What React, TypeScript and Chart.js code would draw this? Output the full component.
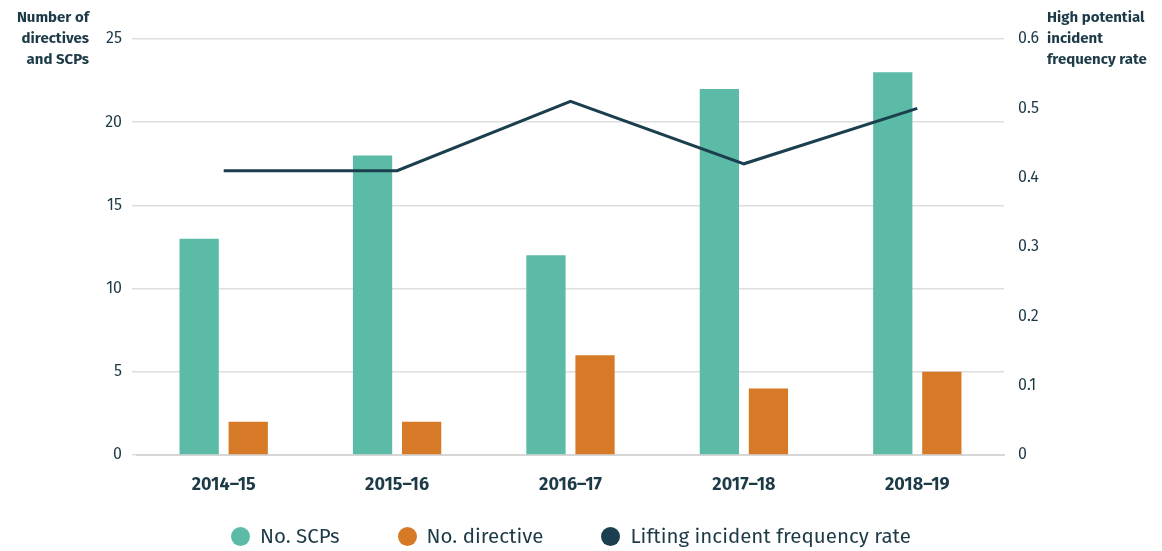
import React, { useEffect, useRef } from "react";
import { Chart, registerables } from "chart.js";

Chart.register(...registerables);

const categories = ["2014–15", "2015–16", "2016–17", "2017–18", "2018–19"];
const scps = [13, 18, 12, 22, 23];
const directives = [2, 2, 6, 4, 5];
const liftingRate = [0.41, 0.41, 0.51, 0.42, 0.5];

const TEAL = "#5bbba6";
const ORANGE = "#d67a27";
const NAVY = "#1b3f4f";
const TEXT = "#1d3a47";
const FONT = "'Fira Sans', Lato, 'Open Sans', sans-serif";

export default function App() {
  const ref = useRef<HTMLCanvasElement>(null);
  useEffect(() => {
    if (!ref.current) return;
    const chart = new Chart(ref.current, {
      type: "bar",
      data: {
        labels: categories,
        datasets: [
          {
            type: "line",
            label: "Lifting incident frequency rate",
            data: liftingRate,
            yAxisID: "y1",
            borderColor: NAVY,
            backgroundColor: NAVY,
            borderWidth: 3,
            pointRadius: 0,
            tension: 0,
            order: 0,
          } as any,
          {
            label: "No. SCPs",
            data: scps,
            backgroundColor: TEAL,
            yAxisID: "y",
            categoryPercentage: 0.566,
            barPercentage: 0.8,
            order: 1,
          },
          {
            label: "No. directive",
            data: directives,
            backgroundColor: ORANGE,
            yAxisID: "y",
            categoryPercentage: 0.566,
            barPercentage: 0.8,
            order: 1,
          },
        ],
      },
      options: {
        animation: false,
        responsive: false,
        maintainAspectRatio: false,
        layout: { padding: { top: 39, bottom: 51, left: 0, right: 0 } },
        plugins: { legend: { display: false }, tooltip: { enabled: false } },
        scales: {
          x: {
            grid: { display: false },
            border: { display: true, color: "#d6d6d6", width: 2 },
            ticks: {
              color: TEXT,
              font: { family: FONT, size: 18, weight: "bold" },
              padding: 11,
            },
            afterFit: (s: any) => {
              s.height = 45;
            },
          },
          y: {
            position: "left",
            min: 0,
            max: 25,
            ticks: {
              stepSize: 5,
              color: TEXT,
              font: { family: FONT, size: 16 },
              padding: 10,
            },
            grid: { color: "#dedede", lineWidth: 1.5, tickLength: 5, drawTicks: true, tickColor: "#dedede" },
            border: { display: false },
            afterFit: (s: any) => {
              s.width = 137;
            },
          },
          y1: {
            position: "right",
            min: 0,
            max: 0.6,
            ticks: {
              stepSize: 0.1,
              color: TEXT,
              font: { family: FONT, size: 16 },
              padding: 14,
              callback: (v: any) => (Number(v) === 0 ? "0" : Number(v).toFixed(1)),
            },
            grid: { display: false, drawTicks: false },
            border: { display: false },
            afterFit: (s: any) => {
              s.width = 158;
            },
          },
        },
      },
    });
    return () => chart.destroy();
  }, []);

  const titleStyle: React.CSSProperties = {
    position: "absolute",
    top: 7,
    fontFamily: FONT,
    fontWeight: 700,
    fontSize: 15,
    lineHeight: "21px",
    color: TEXT,
  };

  const legendItems = [
    { label: "No. SCPs", color: TEAL },
    { label: "No. directive", color: ORANGE },
    { label: "Lifting incident frequency rate", color: NAVY },
  ];

  return (
    <div style={{ position: "fixed", left: 0, top: 0, width: 1162, height: 551, background: "#fff" }}>
      <canvas ref={ref} width={1162} height={551} style={{ position: "absolute", left: 0, top: 0 }} />
      <div style={{ ...titleStyle, right: 1162 - 89, textAlign: "right" }}>
        Number of<br />directives<br />and SCPs
      </div>
      <div style={{ ...titleStyle, left: 1047, textAlign: "left" }}>
        High potential<br />incident<br />frequency rate
      </div>
      <div
        style={{
          position: "absolute",
          left: 231,
          top: 524,
          display: "flex",
          alignItems: "center",
          fontFamily: FONT,
          fontSize: 20.5,
          color: TEXT,
          whiteSpace: "nowrap",
        }}
      >
        {legendItems.map((it, i) => (
          <div key={i} style={{ display: "flex", alignItems: "center", marginRight: i < 2 ? 58 : 0 }}>
            <span
              style={{
                display: "inline-block",
                width: 19,
                height: 19,
                borderRadius: "50%",
                background: it.color,
                marginRight: 10,
              }}
            />
            <span>{it.label}</span>
          </div>
        ))}
      </div>
    </div>
  );
}
